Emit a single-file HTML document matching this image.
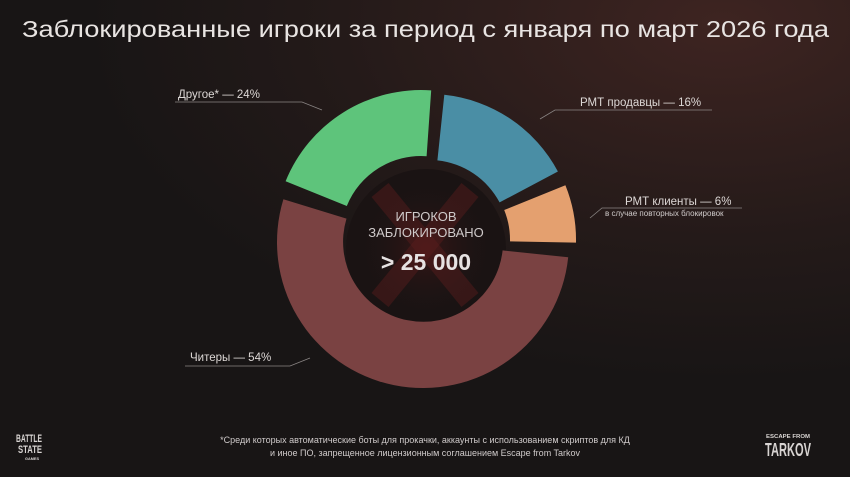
<!DOCTYPE html>
<html><head><meta charset="utf-8"><style>
html,body{margin:0;padding:0;background:#1a1515;}
svg{display:block;font-family:"Liberation Sans","DejaVu Sans",sans-serif;}
</style></head><body>
<svg width="850" height="477" viewBox="0 0 850 477" xmlns="http://www.w3.org/2000/svg">
<defs>
<radialGradient id="bg" cx="0.85" cy="0.05" r="0.75">
<stop offset="0" stop-color="#3e2421"/>
<stop offset="0.6" stop-color="#241a19"/>
<stop offset="1" stop-color="#181515"/>
</radialGradient>
<radialGradient id="glow" cx="0.5" cy="0.5" r="0.5">
<stop offset="0" stop-color="#4a1818" stop-opacity="0.6"/>
<stop offset="1" stop-color="#1a1515" stop-opacity="0"/>
</radialGradient>
</defs>
<rect width="850" height="477" fill="url(#bg)"/>
<text x="22" y="37" fill="#e8e4e2" font-size="23" textLength="807" lengthAdjust="spacingAndGlyphs">Заблокированные игроки за период с января по март 2026 года</text>

<circle cx="426" cy="249" r="80" fill="#1a1313"/>
<circle cx="426" cy="249" r="70" fill="url(#glow)"/>
<g stroke="#5a1c1c" stroke-width="22" stroke-opacity="0.45" stroke-linecap="butt">
<line x1="380" y1="190" x2="470" y2="300"/>
<line x1="470" y1="190" x2="380" y2="300"/>
</g>

<path d="M440.3,98.8 A146,146 0 0 1 553.9,175.5 L495.6,206.4 A80,80 0 0 0 433.4,164.4 Z" fill="#4a8ea5" transform="translate(4,-4)"/>
<path d="M560.4,189.3 A146,146 0 0 1 571,246.6 L505,245.4 A80,80 0 0 0 499.2,214 Z" fill="#e4a06f" transform="translate(5,-4)"/>
<path d="M570.2,259.3 A146,146 0 1 1 285.4,201.3 L348.5,220.6 A80,80 0 1 0 504.6,252.4 Z" fill="#7a4242" transform="translate(-2,-2)"/>
<path d="M289.6,189.3 A146,146 0 0 1 435.2,98.4 L430.6,164.2 A80,80 0 0 0 350.8,214 Z" fill="#5ec47b" transform="translate(-4,-8)"/>

<text x="426" y="221" fill="#cfcaca" font-size="13" text-anchor="middle">ИГРОКОВ</text>
<text x="426" y="237" fill="#cfcaca" font-size="13" text-anchor="middle">ЗАБЛОКИРОВАНО</text>
<text x="426" y="270" fill="#e6e2e2" font-size="23" font-weight="bold" text-anchor="middle">&gt; 25 000</text>

<g fill="#ddd8d6" font-size="11.5">
<text x="178" y="98">Другое* — 24%</text>
<text x="580" y="106">РМТ продавцы — 16%</text>
<text x="625" y="205">РМТ клиенты — 6%</text>
<text x="190" y="361">Читеры — 54%</text>
</g>
<text x="605" y="216" fill="#cfcaca" font-size="8">в случае повторных блокировок</text>
<g stroke="#8a8584" stroke-width="0.8" fill="none">
<polyline points="175,102 302,102 322,110"/>
<polyline points="540,119 555,110 712,110"/>
<polyline points="590,218 602,208 742,208"/>
<polyline points="185,366 290,366 310,358"/>
</g>

<text x="425" y="443" fill="#cfcaca" font-size="9" text-anchor="middle">*Среди которых автоматические боты для прокачки, аккаунты с использованием скриптов для КД</text>
<text x="425" y="456" fill="#cfcaca" font-size="9" text-anchor="middle">и иное ПО, запрещенное лицензионным соглашением Escape from Tarkov</text>

<g fill="#d8d4d2" font-weight="bold">
<text x="16" y="442" font-size="11" textLength="26" lengthAdjust="spacingAndGlyphs">BATTLE</text>
<text x="18" y="453" font-size="11" textLength="24" lengthAdjust="spacingAndGlyphs">STATE</text>
<text x="25" y="460" font-size="4" textLength="14" lengthAdjust="spacingAndGlyphs">GAMES</text>
<text x="766" y="438" font-size="5" textLength="44" lengthAdjust="spacingAndGlyphs">ESCAPE FROM</text>
<text x="765" y="456" font-size="18" textLength="46" lengthAdjust="spacingAndGlyphs">TARKOV</text>
</g>
</svg>
</body></html>
